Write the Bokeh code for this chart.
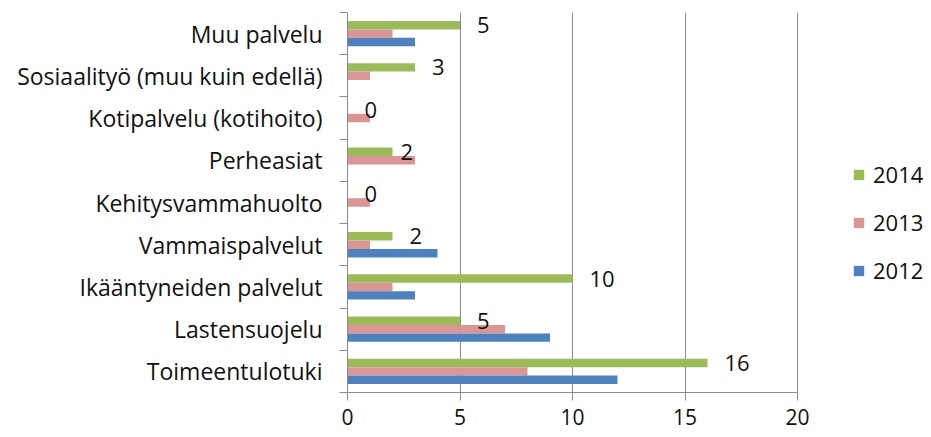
from bokeh.plotting import figure
from bokeh.models import (ColumnDataSource, FixedTicker, CustomJSTickFormatter,
                          Legend, LegendItem, Range1d)
from bokeh.embed import file_html
from bokeh.resources import INLINE
from bokeh.core.properties import value

# ---- data (bottom to top) ----
categories = ["Toimeentulotuki", "Lastensuojelu", "Ikääntyneiden palvelut",
              "Vammaispalvelut", "Kehitysvammahuolto", "Perheasiat",
              "Kotipalvelu (kotihoito)", "Sosiaalityö (muu kuin edellä)", "Muu palvelu"]
v2012 = [12, 9, 3, 4, 0, 0, 0, 0, 3]
v2013 = [8, 7, 2, 1, 1, 3, 1, 1, 2]
v2014 = [16, 5, 10, 2, 0, 2, 0, 3, 5]
series_names = ["2014", "2013", "2012"]
x_ticks = [0, 5, 10, 15, 20]

# label horizontal offsets (px) from the bar end
label_dx = [17, 17, 17, 17, 17, 8, 17, 17, 17]

FONT = "Open Sans"
TXT = "#111111"
GRID = "#8c8c8c"
colors = {"2014": "#9BBB59", "2013": "#D99694", "2012": "#4F81BD"}

n = len(categories)
pos = [i + 0.5 for i in range(n)]

src = ColumnDataSource(dict(
    y14=[p_ + 0.2 for p_ in pos], y13=pos, y12=[p_ - 0.2 for p_ in pos],
    v2014=v2014, v2013=v2013, v2012=v2012,
    lbl=[str(v) for v in v2014], dx=label_dx,
))

W, H = 931, 437
LEFT = 347
# frame spans the full width right of the y axis; the value axis 0..20
# occupies the first 450 px, the legend sits in the remaining space
FRAME_W = W - LEFT
x_end = x_ticks[-1] * FRAME_W / 450.0

p = figure(width=W, height=H, output_backend="svg", toolbar_location=None,
           x_range=Range1d(0, x_end), y_range=Range1d(0, n),
           min_border_left=LEFT, min_border_right=0, min_border_top=12,
           min_border_bottom=45)
p.outline_line_color = None
p.background_fill_color = "white"
p.border_fill_color = "white"

r14 = p.hbar(y="y14", right="v2014", left=0, height=0.2, source=src,
             fill_color=colors["2014"], line_color=None)
r13 = p.hbar(y="y13", right="v2013", left=0, height=0.2, source=src,
             fill_color=colors["2013"], line_color=None)
r12 = p.hbar(y="y12", right="v2012", left=0, height=0.2, source=src,
             fill_color=colors["2012"], line_color=None)

p.text(x="v2014", y="y14", text="lbl", x_offset="dx", source=src,
       text_font=value(FONT), text_font_size="22px", text_color=TXT,
       text_align="left", text_baseline="middle")

# x axis
xa = p.xaxis[0]
xa.ticker = FixedTicker(ticks=x_ticks)
xa.bounds = (x_ticks[0], x_ticks[-1])
xa.axis_line_color = GRID
xa.major_tick_line_color = GRID
xa.major_tick_out = 8
xa.major_tick_in = 0
xa.minor_tick_line_color = None
xa.major_label_text_font = FONT
xa.major_label_text_font_size = "21px"
xa.major_label_text_color = TXT
xa.major_label_standoff = 8

# y axis
ya = p.yaxis[0]
ya.ticker = FixedTicker(ticks=pos, minor_ticks=list(range(n + 1)))
ya.formatter = CustomJSTickFormatter(args=dict(labels=categories),
                                     code="return labels[Math.round(tick - 0.5)];")
ya.axis_line_color = GRID
ya.major_tick_line_color = None
ya.major_tick_out = 0
ya.major_tick_in = 0
ya.minor_tick_line_color = GRID
ya.minor_tick_out = 8
ya.minor_tick_in = 0
ya.major_label_text_font = FONT
ya.major_label_text_font_size = "23px"
ya.major_label_text_color = TXT
ya.major_label_standoff = 17

p.xgrid.grid_line_color = GRID
p.xgrid.ticker = FixedTicker(ticks=x_ticks)
p.ygrid.grid_line_color = None

legend = Legend(items=[LegendItem(label=series_names[0], renderers=[r14]),
                       LegendItem(label=series_names[1], renderers=[r13]),
                       LegendItem(label=series_names[2], renderers=[r12])],
                location=(505, 107), orientation="vertical")
legend.border_line_color = None
legend.background_fill_alpha = 0
legend.label_text_font = FONT
legend.label_text_font_size = "22px"
legend.label_text_color = TXT
legend.glyph_width = 13
legend.glyph_height = 13
legend.label_standoff = 8
legend.spacing = 18
legend.padding = 0
legend.margin = 0
p.add_layout(legend, "center")

open("out.html", "w").write(file_html(p, INLINE))
